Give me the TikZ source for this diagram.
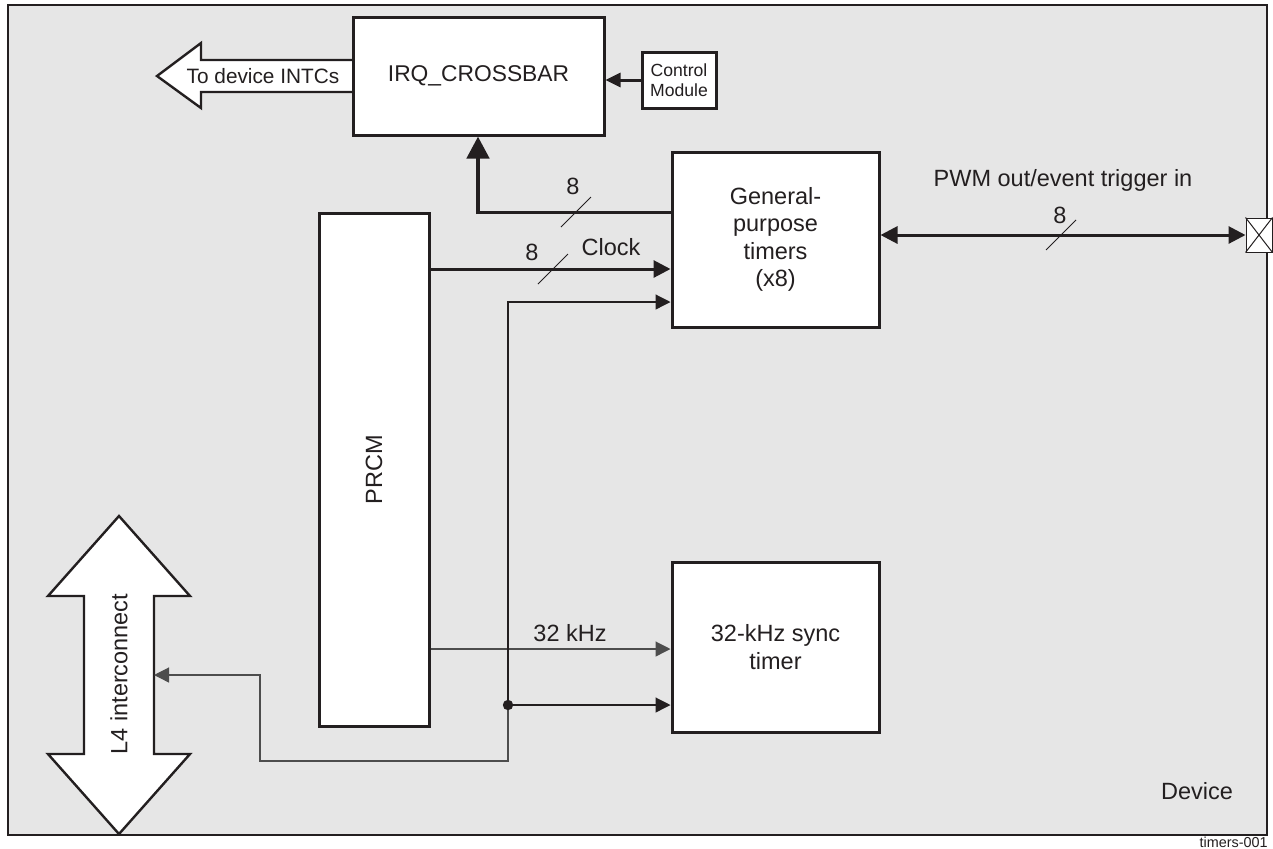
\documentclass[tikz,border=0pt]{standalone}
\usepackage{fontspec}
\setmainfont{Liberation Sans}
\usetikzlibrary{arrows.meta}

\definecolor{ink}{HTML}{231F20}
\definecolor{devgray}{HTML}{E6E6E6}
\definecolor{wiregray}{HTML}{4D4D4D}

\begin{document}
\begin{tikzpicture}[x=0.5pt,y=-0.5pt,
  font=\fontsize{11.75}{13.8}\selectfont, text=ink,
  block/.style={draw=ink,fill=white,line width=1.5pt,inner sep=0pt,align=center},
  bus/.style={draw=ink,line width=1.5pt},
  wire/.style={draw=wiregray,line width=0.6pt},
  slash/.style={draw=ink,line width=0.5pt},
  bigarrow/.style={draw=ink,fill=white,line width=1.2pt,line join=miter}]

  \useasboundingbox (0,0) rectangle (1273,848);

  % Device outline
  \draw[ink,fill=devgray,line width=1pt] (8,5) rectangle (1267,835);

  % Wide arrows
  \draw[bigarrow] (353,60) -- (201,60) -- (201,43) -- (157,76)
    -- (201,108) -- (201,92) -- (353,92);
  \node[font=\fontsize{10.4}{12}\selectfont] (intclbl) at (263,76) {To device INTCs};

  \draw[bigarrow] (119,516) -- (190,596) -- (154,596) -- (154,754)
    -- (190,754) -- (119,834) -- (48,754) -- (84,754) -- (84,596)
    -- (48,596) -- cycle;
  \node[rotate=90] (l4lbl) at (119,674) {L4 interconnect};
  \coordinate (l4port) at (154,675);

  % Blocks
  \node[block,minimum width=125.5pt,minimum height=59pt,
    font=\fontsize{11.4}{13}\selectfont] (irq) at (478.5,76) {IRQ\_CROSSBAR};
  \node[block,minimum width=37pt,minimum height=28pt,
    font=\fontsize{8.8}{10}\selectfont] (ctrl) at (679,80) {Control\\Module};
  \node[block,minimum width=103.5pt,minimum height=87.5pt] (gpt) at (775.5,239.5)
    {General-\\purpose\\timers\\(x8)};
  \node[block,minimum width=55pt,minimum height=256.5pt] (prcm) at (374,469.5) {};
  \node[rotate=90] (prcmlbl) at (prcm) {PRCM};
  \node[block,minimum width=103.5pt,minimum height=85pt,
    font=\fontsize{11.75}{14}\selectfont] (sync) at (775.5,647) {32-kHz sync\\timer};

  % Pad
  \node[draw=ink,fill=white,line width=0.5pt,minimum width=13pt,
    minimum height=17pt,inner sep=0pt] (pad) at (1259,235) {};
  \draw[ink,line width=0.5pt] (pad.north west) -- (pad.south east)
    (pad.north east) -- (pad.south west);

  % Attach points
  \coordinate (irqout) at (gpt.west |- 0,212);
  \coordinate (irqtap) at (478,212);
  \coordinate (clkin) at (gpt.west |- 0,269);
  \coordinate (l4in) at (gpt.west |- 0,302);
  \coordinate (ref32) at (sync.west |- 0,649);
  \coordinate (l4sync) at (sync.west |- 0,705);
  \coordinate (tap) at (508,705);

  % Interrupts
  \draw[bus] (irqout) -- (irqtap);
  \draw[ink,line width=2.3pt,-{Triangle[length=11pt,width=11pt]}]
    ([yshift=-1pt]irqtap) -- (irqtap |- irq.south);
  \draw[bus,-{Triangle[length=7.5pt,width=7pt]}] (ctrl.west) -- (ctrl.west -| irq.east);

  % Clocks
  \draw[bus,-{Triangle[length=8.5pt,width=8.5pt]}] (prcm.east |- clkin) -- (clkin);
  \draw[wire,-{Triangle[length=7.5pt,width=7.5pt]}] (prcm.east |- ref32) -- (ref32);

  % L4 interconnect
  \draw[wire,draw=ink,-{Triangle[length=7.5pt,width=7.5pt]}] (tap) |- (l4in);
  \draw[wire,draw=ink,-{Triangle[length=7.5pt,width=7.5pt]}] (tap) -- (l4sync);
  \draw[wire,-{Triangle[length=7.5pt,width=7.5pt]}] (tap) -- (508,761) -| (260,675) -- (l4port);
  \fill[ink] (tap) circle (2.6pt);

  % PWM
  \draw[bus,{Triangle[length=8.5pt,width=8.5pt]}-{Triangle[length=8.5pt,width=8.5pt]}]
    (gpt.east |- pad.west) -- (pad.west);

  % Bus width marks
  \foreach \x/\y in {576/212,553/269,1061/235}
    \draw[slash] (\x,\y) ++(-15,15) -- ++(30,-30);

  % Labels
  \node (bus8a) at (573,186) {8};
  \node (bus8b) at (532,252) {8};
  \node (clklbl) at (611,247) {Clock};
  \node (bus8c) at (1060,215) {8};
  \node (pwmlbl) at (1063,180) {PWM out/event trigger in};
  \node (khzlbl) at (570,633) {32 kHz};
  \node (devlbl) at (1197,791) {Device};
  \node[anchor=east,inner sep=0pt,font=\fontsize{7.2}{8}\selectfont] (figid) at (1268,842) {timers-001};

\end{tikzpicture}
\end{document}
